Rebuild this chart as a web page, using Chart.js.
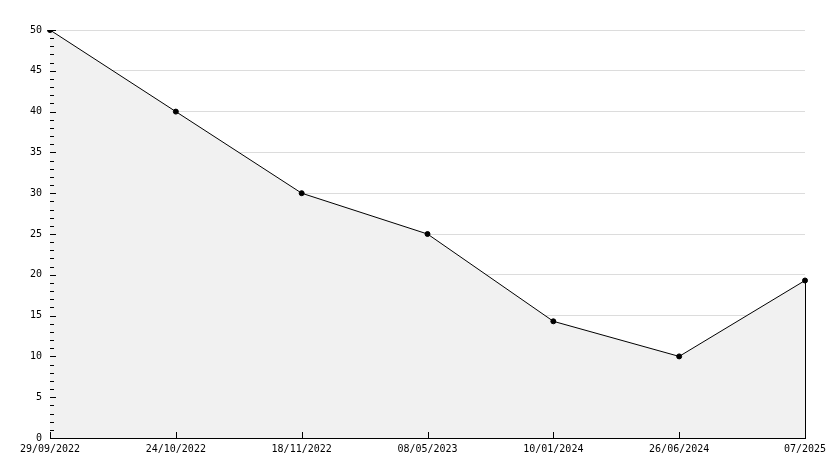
<!DOCTYPE html>
<html>
<head>
<meta charset="utf-8">
<script src="https://cdn.jsdelivr.net/npm/chart.js@4"></script>
<style>
html,body{margin:0;padding:0;background:#fff;}
#wrap{width:834px;height:468px;}
</style>
</head>
<body>
<div id="wrap"><canvas id="c" width="834" height="468"></canvas></div>
<script>
const categories = ["29/09/2022","24/10/2022","18/11/2022","08/05/2023","10/01/2024","26/06/2024","07/2025"];
const values = [50, 40, 30, 25, 14.3, 10, 19.3];
const yMin = 0, yMax = 50, yMajorStep = 5, yMinorStep = 1;

const innerTicks = {
  id: 'innerTicks',
  afterDatasetsDraw(chart) {
    const ctx = chart.ctx, x = chart.scales.x, y = chart.scales.y, a = chart.chartArea;
    ctx.save();
    ctx.strokeStyle = '#000';
    ctx.lineWidth = 1;
    // vertical closing edge of the area at the last point
    const meta = chart.getDatasetMeta(0);
    const last = meta.data[meta.data.length - 1];
    ctx.beginPath();
    ctx.moveTo(Math.round(last.x) + 0.5, last.y);
    ctx.lineTo(Math.round(last.x) + 0.5, y.getPixelForValue(yMin));
    ctx.stroke();
    // y ticks (inside)
    ctx.beginPath();
    for (let v = yMin; v <= yMax; v += yMinorStep) {
      const py = Math.round(y.getPixelForValue(v)) + 0.5;
      const len = (v % yMajorStep === 0) ? 6 : 4;
      ctx.moveTo(a.left, py);
      ctx.lineTo(a.left + len, py);
    }
    // x ticks (inside)
    for (let i = 0; i < categories.length; i++) {
      const px = Math.round(x.getPixelForValue(i)) + 0.5;
      ctx.moveTo(px, a.bottom);
      ctx.lineTo(px, a.bottom - 6);
    }
    ctx.stroke();
    ctx.restore();
  }
};

new Chart(document.getElementById('c'), {
  type: 'line',
  data: {
    labels: categories,
    datasets: [{
      data: values,
      borderColor: '#000',
      borderWidth: 1,
      backgroundColor: '#f1f1f1',
      fill: 'origin',
      tension: 0,
      pointRadius: 2.5,
      pointHoverRadius: 2.5,
      pointBackgroundColor: '#000',
      pointBorderColor: '#000',
      pointBorderWidth: 1
    }]
  },
  options: {
    responsive: false,
    animation: false,
    events: [],
    layout: { padding: { top: 30, right: 29, left: 0, bottom: 0 } },
    plugins: { legend: { display: false }, tooltip: { enabled: false } },
    scales: {
      x: {
        offset: false,
        grid: { display: false, drawTicks: false },
        border: { display: true, color: '#000', width: 1 },
        ticks: { color: '#000', font: { family: 'DejaVu Sans Mono', size: 10 }, padding: 5, maxRotation: 0, autoSkip: false },
        afterFit(s) { s.height = 30; }
      },
      y: {
        min: yMin, max: yMax,
        grid: { color: '#dcdcdc', drawTicks: false, lineWidth: 1 },
        border: { display: true, color: '#000', width: 1 },
        ticks: { stepSize: yMajorStep, color: '#000', font: { family: 'DejaVu Sans Mono', size: 10 }, padding: 8 },
        afterFit(s) { s.width = 50; }
      }
    }
  },
  plugins: [innerTicks]
});
</script>
</body>
</html>
